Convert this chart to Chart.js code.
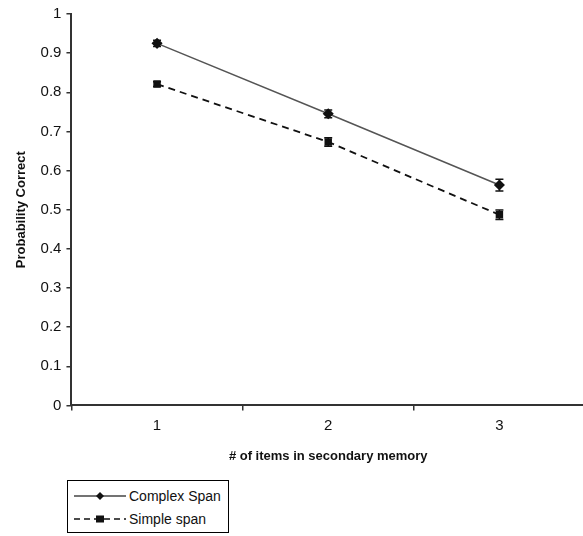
<!DOCTYPE html>
<html>
<head>
<meta charset="utf-8">
<script src="https://cdn.jsdelivr.net/npm/chart.js@4"></script>
<style>
    body { margin: 0; background: #fff; overflow: hidden; }
    #wrap { position: relative; width: 583px; height: 536px; overflow: hidden; }
    #legend {
        position: absolute; left: 67px; top: 480px; width: 160px; height: 51px;
        border: 1.5px solid #000; background: #fff;
        font-family: 'Liberation Sans', Arial, sans-serif; font-size: 14px; color: #111;
    }
    .row { position: absolute; left: 6px; height: 20px; display: flex; align-items: center; }
    .row svg { margin-right: 3px; }
</style>
</head>
<body>
<div id="wrap">
    <canvas id="chart" width="591" height="536"></canvas>
    <div id="legend">
        <div class="row" style="top: 5px;">
            <svg width="52" height="10"><line x1="0" y1="5" x2="52" y2="5" stroke="#444" stroke-width="1.5"/><polygon points="26,1 30,5 26,9 22,5" fill="#111"/></svg>
            <span>Complex Span</span>
        </div>
        <div class="row" style="top: 28px;">
            <svg width="52" height="10"><line x1="0" y1="5" x2="52" y2="5" stroke="#111" stroke-width="1.5" stroke-dasharray="6,4"/><rect x="22" y="1.5" width="8" height="7" fill="#111"/></svg>
            <span>Simple span</span>
        </div>
    </div>
</div>
<script>
// значения
const categories = ['1', '2', '3'];
const complexSpan = [0.925, 0.745, 0.563];
const complexErr = [0.008, 0.01, 0.015];
const simpleSpan = [0.821, 0.673, 0.487];
const simpleErr = [0.006, 0.011, 0.012];

// планки погрешностей рисуем по шкале Y
const errorBars = {
    id: 'errorBars',
    afterDatasetsDraw(chart) {
        const ctx = chart.ctx;
        const yScale = chart.scales.y;
        chart.data.datasets.forEach((ds, di) => {
            const meta = chart.getDatasetMeta(di);
            ctx.save();
            ctx.strokeStyle = '#111';
            ctx.lineWidth = 1.5;
            meta.data.forEach((pt, i) => {
                const e = ds.errors[i];
                const top = yScale.getPixelForValue(ds.data[i] + e);
                const bot = yScale.getPixelForValue(ds.data[i] - e);
                ctx.beginPath();
                ctx.moveTo(pt.x, top); ctx.lineTo(pt.x, bot);
                ctx.moveTo(pt.x - 4, top); ctx.lineTo(pt.x + 4, top);
                ctx.moveTo(pt.x - 4, bot); ctx.lineTo(pt.x + 4, bot);
                ctx.stroke();
            });
            ctx.restore();
        });
    }
};

const font = { family: "'Liberation Sans', Arial, sans-serif", size: 15 };

new Chart(document.getElementById('chart'), {
    type: 'line',
    data: {
        labels: categories,
        datasets: [{
            label: 'Complex Span',
            data: complexSpan,
            errors: complexErr,
            borderColor: '#555',
            borderWidth: 1.5,
            pointStyle: 'rectRot',
            pointRadius: 4.5,
            pointBackgroundColor: '#111',
            pointBorderColor: '#111',
            tension: 0
        }, {
            label: 'Simple span',
            data: simpleSpan,
            errors: simpleErr,
            borderColor: '#111',
            borderWidth: 1.8,
            borderDash: [7, 5],
            pointStyle: 'rect',
            pointRadius: 4,
            pointBackgroundColor: '#111',
            pointBorderColor: '#111',
            tension: 0
        }]
    },
    options: {
        responsive: false,
        animation: false,
        layout: { padding: { top: 6, right: 0, bottom: 68, left: 10 } },
        plugins: { legend: { display: false }, tooltip: { enabled: false } },
        scales: {
            x: {
                offset: true,
                grid: { drawOnChartArea: false, offset: true, tickLength: 5, color: '#333', lineWidth: 1.5 },
                border: { color: '#333', width: 2 },
                ticks: { font: font, color: '#111', padding: 6 },
                title: { display: true, text: '# of items in secondary memory', color: '#111', font: { family: font.family, size: 13, weight: 'bold' }, padding: { top: 8 } }
            },
            y: {
                min: 0, max: 1,
                grid: { drawOnChartArea: false, tickLength: 5, color: '#333', lineWidth: 1.5 },
                border: { color: '#333', width: 2 },
                ticks: { stepSize: 0.1, font: font, color: '#111', padding: 5, callback: v => String(Number(v.toFixed(1))) },
                title: { display: true, text: 'Probability Correct', color: '#111', font: { family: font.family, size: 13, weight: 'bold' }, padding: { bottom: 6 } }
            }
        }
    },
    plugins: [errorBars]
});
</script>
</body>
</html>
